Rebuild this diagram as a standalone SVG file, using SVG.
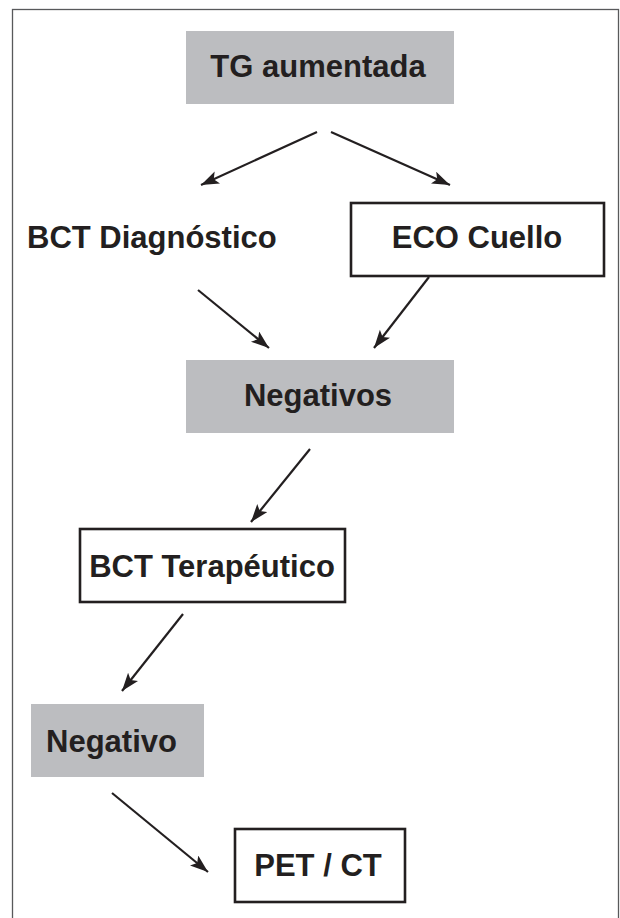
<svg xmlns="http://www.w3.org/2000/svg" width="620" height="918" viewBox="0 0 620 918">
<style>
.frame{fill:none;stroke:#58595b;stroke-width:1.3}
.gray{fill:#bcbdc0}
.box{fill:#fff;stroke:#231f20;stroke-width:2.6}
.t{font-family:"Liberation Sans",Arial,sans-serif;font-weight:bold;font-size:31px;fill:#231f20}
.c{text-anchor:middle}
.edge{stroke:#231f20;stroke-width:2.2;fill:none;marker-end:url(#ah)}
</style>
<defs>
<marker id="ah" markerUnits="userSpaceOnUse" markerWidth="20" markerHeight="14" refX="18" refY="6.5" orient="auto">
<path d="M0,0 L18,6.5 L0,13 L4,6.5 Z" fill="#231f20"/>
</marker>
</defs>
<rect class="frame" x="12.5" y="9.5" width="606" height="930"/>
<g id="n_tg">
<rect class="gray" x="186" y="31" width="268" height="73"/>
<text class="t c" x="318" y="77">TG aumentada</text>
</g>
<g id="n_bctdiag">
<text class="t" x="27" y="248">BCT Diagnóstico</text>
</g>
<g id="n_eco">
<rect class="box" x="351" y="203" width="253" height="73"/>
<text class="t c" x="477" y="248">ECO Cuello</text>
</g>
<g id="n_negativos">
<rect class="gray" x="186" y="360" width="268" height="73"/>
<text class="t c" x="318" y="406">Negativos</text>
</g>
<g id="n_bctter">
<rect class="box" x="80" y="529" width="265" height="73"/>
<text class="t c" x="212" y="577">BCT Terapéutico</text>
</g>
<g id="n_negativo">
<rect class="gray" x="31" y="704" width="173" height="73"/>
<text class="t" x="46" y="752">Negativo</text>
</g>
<g id="n_pet">
<rect class="box" x="235" y="829" width="170" height="73"/>
<text class="t c" x="318" y="876">PET / CT</text>
</g>
<g id="edges">
<line class="edge" x1="317" y1="132" x2="201" y2="185"/>
<line class="edge" x1="331" y1="132" x2="450" y2="185"/>
<line class="edge" x1="198" y1="290" x2="269" y2="348"/>
<line class="edge" x1="429" y1="277" x2="374" y2="348"/>
<line class="edge" x1="310" y1="449" x2="251" y2="522"/>
<line class="edge" x1="183" y1="614" x2="122" y2="691"/>
<line class="edge" x1="112" y1="793" x2="208" y2="872"/>
</g>
</svg>
